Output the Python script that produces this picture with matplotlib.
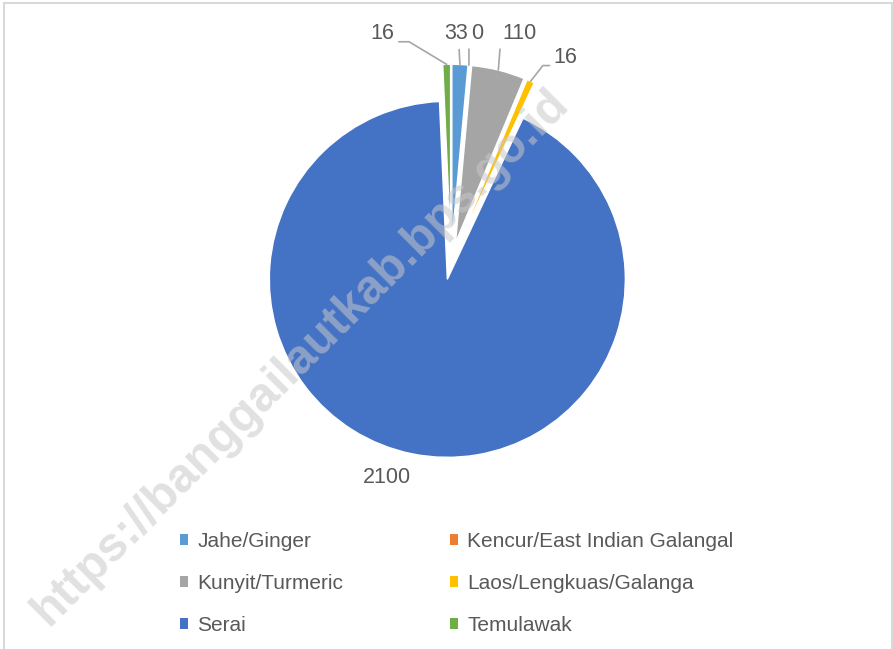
import numpy as np
import matplotlib
matplotlib.use("Agg")
import matplotlib.pyplot as plt
import matplotlib.patches as mpatches

# Data
categories = ['Jahe/Ginger', 'Kencur/East Indian Galangal', 'Kunyit/Turmeric',
              'Laos/Lengkuas/Galanga', 'Serai', 'Temulawak']
values = [33, 0, 110, 16, 2100, 16]
value_labels = ['33', '0', '110', '16', '2100', '16']

# Office theme colours
colors = ['#5B9BD5', '#ED7D31', '#A5A5A5', '#FFC000', '#4472C4', '#70AD47']

# label offsets (pixels) from the outer arc midpoint of each slice
label_offsets = [(-4, 31), (8, 32), (21, 37), (35, 24), (-25, -24), (-64, 31)]
# leader style and where the leader leaves the label box
label_leaders = ['straight', 'straight', 'straight', 'bent_right', None, 'bent_left']
leader_relpos = [(0.62, 0.0), (-0.15, 0.1), (-0.05, 0.05), (0.0, 0.1), None, (1.0, 0.1)]

plt.rcParams['font.family'] = ['Liberation Sans', 'DejaVu Sans']
TEXT = '#595959'
LINE = '#A6A6A6'
FS = 15.5

W, H = 893, 649
fig = plt.figure(figsize=(W / 100, H / 100), dpi=100)

# pie centre (451, 261) px, radius 178 px
R = 178.0
cx, cy = 451.0, 261.0
ax = fig.add_axes([(cx - 2 * R) / W, (H - cy - 1.4 * R) / H, 4 * R / W, 2.8 * R / H])

wedges, _ = ax.pie(values, colors=colors, startangle=90, counterclock=False,
                   explode=[0.105] * len(values), radius=1.0,
                   wedgeprops=dict(edgecolor='white', linewidth=1.0))
ax.set_xlim(-2, 2)
ax.set_ylim(-1.4, 1.4)
ax.set_aspect('equal')
ax.axis('off')

for w, lab, off, kind, rp in zip(wedges, value_labels, label_offsets, label_leaders, leader_relpos):
    mid = np.deg2rad((w.theta1 + w.theta2) / 2)
    x0, y0 = w.center
    anchor = (x0 + w.r * np.cos(mid), y0 + w.r * np.sin(mid))
    kw = dict(xy=anchor, xytext=off, textcoords='offset pixels',
              ha='center', va='center', fontsize=FS, color=TEXT)
    if kind is None:
        ax.annotate(lab, **kw)
    elif kind == 'straight':
        ax.annotate(lab, **kw,
                    arrowprops=dict(arrowstyle='-', color=LINE, lw=1.2,
                                    shrinkA=2, shrinkB=0, relpos=rp))
    elif kind == 'bent_left':
        ax.annotate(lab, **kw,
                    arrowprops=dict(arrowstyle='-', color=LINE, lw=1.2,
                                    shrinkA=1, shrinkB=0, relpos=rp,
                                    connectionstyle='angle,angleA=0,angleB=149,rad=0'))
    else:
        ax.annotate(lab, **kw,
                    arrowprops=dict(arrowstyle='-', color=LINE, lw=1.2,
                                    shrinkA=1, shrinkB=0, relpos=rp,
                                    connectionstyle='angle,angleA=0,angleB=52,rad=0'))

# legend, filled row by row (2 columns)
order = [0, 2, 4, 1, 3, 5]
handles = [mpatches.Patch(facecolor=colors[i], edgecolor='none', label=categories[i]) for i in order]
fig.legend(handles=handles, loc='upper left', bbox_to_anchor=(161 / W, 1 - 513 / H),
           ncol=2, frameon=False, fontsize=15, handlelength=0.4, handleheight=0.4,
           handletextpad=0.45, labelspacing=1.11, columnspacing=5.1, labelcolor=TEXT)

# chart area border
fig.patches.append(mpatches.Rectangle((4 / W, -0.01), (888 / W), 1 - 3 / H + 0.01,
                                      transform=fig.transFigure, fill=False,
                                      edgecolor='#D9D9D9', linewidth=1.5))

# watermark
fig.text(301 / W, 1 - 357 / H, 'https://banggailautkab.bps.go.id', rotation=45,
         ha='center', va='center', fontsize=34.5, fontweight='bold',
         color='#C8C8C8', alpha=0.55, zorder=10, rotation_mode='anchor')

fig.savefig('out.png', dpi=100)
